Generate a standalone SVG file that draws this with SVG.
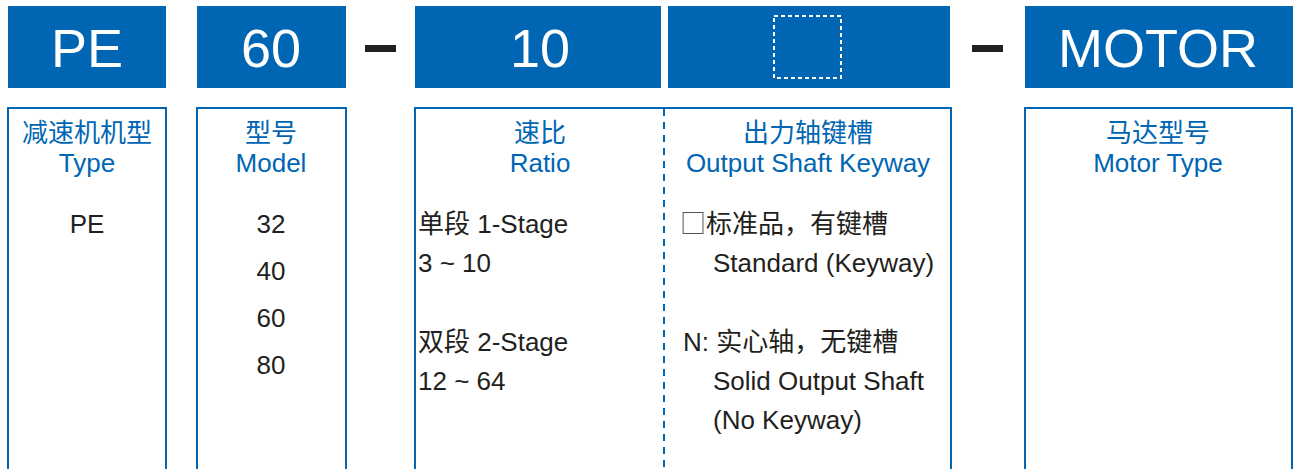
<svg xmlns="http://www.w3.org/2000/svg" width="1294" height="469" viewBox="0 0 1294 469">
<style>
.hd{fill:#0066b3}
.hdt{fill:#fff;font-family:"Liberation Sans",Arial,sans-serif;font-size:54px;text-anchor:middle}
.bx{fill:#fff;stroke:#0066b3;stroke-width:2}
.ttl{fill:#0066b3;font-family:"Liberation Sans","Noto Sans CJK SC",sans-serif;font-size:26px;text-anchor:middle}
.bd{fill:#231f20;font-family:"Liberation Sans","Noto Sans CJK SC",sans-serif;font-size:26px}
.c{text-anchor:middle}
.sq{font-family:"Noto Sans CJK SC",sans-serif;fill:#555}
.dash{fill:#231f20}
</style>
<rect width="1294" height="469" fill="#fff"/>
<g id="type">
<rect class="hd" x="8" y="6" width="158" height="82"/>
<text class="hdt" x="87" y="67">PE</text>
<rect class="bx" x="8" y="108" width="158" height="380"/>
<text class="ttl" x="87" y="142">减速机机型</text>
<text class="ttl" x="87" y="172">Type</text>
<text class="bd c" x="87" y="233">PE</text>
</g>
<g id="model">
<rect class="hd" x="197" y="6" width="149" height="82"/>
<text class="hdt" x="271" y="67">60</text>
<rect class="bx" x="197" y="108" width="149" height="380"/>
<text class="ttl" x="271" y="142">型号</text>
<text class="ttl" x="271" y="172">Model</text>
<text class="bd c" x="271" y="233">32</text>
<text class="bd c" x="271" y="280">40</text>
<text class="bd c" x="271" y="327">60</text>
<text class="bd c" x="271" y="374">80</text>
</g>
<rect class="dash" x="365" y="45" width="31" height="7"/>
<g id="ratio">
<rect class="hd" x="415" y="6" width="246" height="82"/>
<text class="hdt" x="540" y="67">10</text>
<rect class="bx" x="415" y="108" width="536" height="380"/>
<text class="ttl" x="540" y="142">速比</text>
<text class="ttl" x="540" y="172">Ratio</text>
<text class="bd" x="418" y="233">单段 1-Stage</text>
<text class="bd" x="418" y="272">3 ~ 10</text>
<text class="bd" x="418" y="351">双段 2-Stage</text>
<text class="bd" x="418" y="390">12 ~ 64</text>
</g>
<g id="keyway">
<rect class="hd" x="668" y="6" width="282" height="82"/>
<rect x="774" y="16" width="67" height="62" fill="none" stroke="#fff" stroke-width="2" stroke-dasharray="4 3"/>
<text class="ttl" x="808" y="142">出力轴键槽</text>
<text class="ttl" x="808" y="172">Output Shaft Keyway</text>
<text class="bd" x="680" y="233"><tspan class="sq">□</tspan>标准品，有键槽</text>
<text class="bd" x="713" y="272">Standard (Keyway)</text>
<text class="bd" x="683" y="351">N: 实心轴，无键槽</text>
<text class="bd" x="713" y="390">Solid Output Shaft</text>
<text class="bd" x="713" y="429">(No Keyway)</text>
</g>
<g id="connectors">
<line x1="664" y1="109" x2="664" y2="469" stroke="#0066b3" stroke-width="2" stroke-dasharray="7 6"/>
</g>
<rect class="dash" x="972" y="45" width="31" height="7"/>
<g id="motor">
<rect class="hd" x="1025" y="6" width="268" height="82"/>
<text class="hdt" x="1158" y="67">MOTOR</text>
<rect class="bx" x="1025" y="108" width="267" height="380"/>
<text class="ttl" x="1158" y="142">马达型号</text>
<text class="ttl" x="1158" y="172">Motor Type</text>
</g>
</svg>
